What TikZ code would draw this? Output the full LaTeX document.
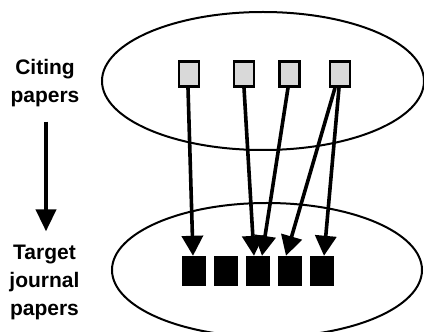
\documentclass[tikz,border=0pt]{standalone}
\usepackage{fontspec}
\setmainfont{Liberation Sans}
\usetikzlibrary{arrows.meta,shapes.geometric}

\tikzset{
  setoval/.style={ellipse, draw, line width=2pt, inner sep=0pt},
  citingbox/.style={rectangle, draw, line width=2.7pt, fill=black!15,
    minimum width=20pt, minimum height=25pt, inner sep=0pt},
  targetbox/.style={rectangle, fill=black, minimum width=24pt,
    minimum height=30pt, inner sep=0pt},
  cites/.style={line width=3.6pt,
    -{Triangle[length=20pt,width=21pt]}},
  sidelabel/.style={align=center, anchor=base, inner sep=0pt,
    font=\fontsize{21}{28}\selectfont\bfseries},
}

\begin{document}
\begin{tikzpicture}[x=1pt,y=1pt]
\useasboundingbox (0,0) rectangle (424,332);

% the two sets of papers
\node[setoval, minimum width=322pt, minimum height=138pt] (citingset) at (263,251) {};
\node[setoval, minimum width=310pt, minimum height=134pt] (targetset) at (267,62) {};

% side labels (anchored on the baseline of their last line) and the direction arrow
\node[sidelabel] (citing) at (45,229) {Citing\\papers};
\node[sidelabel] (target) at (44.5,16) {Target\\journal\\papers};
\draw[line width=4pt, -{Triangle[length=22pt,width=20pt]},
      shorten <=14pt, shorten >=14pt]
  ([xshift=1pt]citing.south) -- ([xshift=1.5pt]target.north);

% citing papers
\node[citingbox] (s1) at (189,258) {};
\node[citingbox] (s2) at (244,258) {};
\node[citingbox] (s3) at (289.5,258) {};
\node[citingbox] (s4) at (340,258) {};

% target journal papers
\node[targetbox] (b1) at (193.5,61) {};
\node[targetbox] (b2) at (225.5,61) {};
\node[targetbox] (b3) at (257.5,61) {};
\node[targetbox] (b4) at (289.5,61) {};
\node[targetbox] (b5) at (321.5,61) {};

% citations
\draw[cites] ([xshift=-1pt]s1.south) -- ([xshift=-0.5pt]b1.north);
\draw[cites] (s2.south) -- ([xshift=-3.5pt]b3.north);
\draw[cites] ([xshift=-1.5pt]s3.south) -- ([xshift=4.5pt]b3.north);
\draw[cites] ([xshift=-5pt]s4.south) -- ([xshift=-3.5pt]b4.north);
\draw[cites] ([xshift=-1pt]s4.south) -- ([xshift=2.5pt]b5.north);
\end{tikzpicture}
\end{document}
